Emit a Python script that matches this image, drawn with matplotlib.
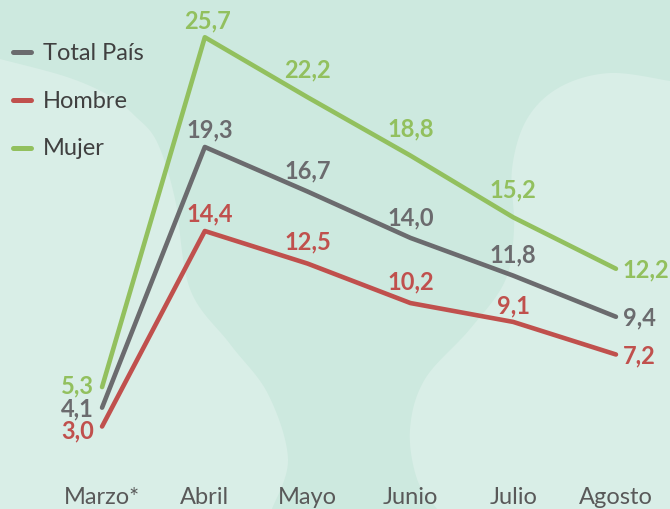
import numpy as np
import matplotlib.pyplot as plt
from matplotlib.patches import Polygon

plt.rcParams['font.family'] = ['Lato', 'DejaVu Sans']

meses = ['Marzo*', 'Abril', 'Mayo', 'Junio', 'Julio', 'Agosto']
total = [4.1, 19.3, 16.7, 14.0, 11.8, 9.4]
hombre = [3.0, 14.4, 12.5, 10.2, 9.1, 7.2]
mujer = [5.3, 25.7, 22.2, 18.8, 15.2, 12.2]

c_total = '#6b6b6e'
c_hombre = '#c0504d'
c_mujer = '#92c05e'

# label offsets in px (dx, dy) per point, dy negative = up
off_total = [(-8, 0), (5, -18), (0, -22), (0, -21), (0, -22), (7, 0)]
off_hombre = [(-8, 3), (5, -18), (0, -23), (0, -22), (0, -17), (7, 0)]
off_mujer = [(-8, -2), (3, -17), (0, -28), (0, -28), (0, -28), (7, 0)]


def smooth(pts, n=20):
    # catmull-rom through the given points
    p = np.array(pts, float)
    p = np.vstack([p[0], p, p[-1]])
    out = []
    for i in range(1, len(p) - 2):
        p0, p1, p2, p3 = p[i - 1], p[i], p[i + 1], p[i + 2]
        for t in np.linspace(0, 1, n, endpoint=False):
            t2, t3 = t * t, t * t * t
            out.append(0.5 * ((2 * p1) + (-p0 + p2) * t + (2 * p0 - 5 * p1 + 4 * p2 - p3) * t2
                              + (-p0 + 3 * p1 - 3 * p2 + p3) * t3))
    out.append(p[-2])
    return np.array(out)


fig = plt.figure(figsize=(6.7, 5.1), dpi=100)
fig.patch.set_facecolor('#cde9df')

bg = fig.add_axes([0, 0, 1, 1], zorder=-1)
bg.set_xlim(0, 670)
bg.set_ylim(510, 0)
bg.axis('off')
light = '#d9eee7'
left_blob = smooth([(0, 60), (67, 78), (110, 97), (135, 117), (157, 143), (175, 200),
                    (190, 290), (230, 345), (268, 395), (288, 460), (272, 510)])
left_blob = np.vstack([left_blob, [(0, 510)]])
bg.add_patch(Polygon(left_blob, closed=True, fc=light, ec='none'))
right_blob = smooth([(670, 82), (610, 74), (560, 88), (527, 120), (512, 170), (514, 230),
                     (505, 282), (470, 330), (425, 380), (410, 430), (417, 480), (437, 510)])
right_blob = np.vstack([right_blob, [(670, 510)]])
bg.add_patch(Polygon(right_blob, closed=True, fc=light, ec='none'))

ax = fig.add_axes([0, 0, 1, 1])
ax.patch.set_alpha(0)
ax.set_xlim(-0.993, 5.526)
ax.set_ylim(-1.81, 27.93)
ax.axis('off')

x = np.arange(len(meses))
for vals, col, offs, name in [(hombre, c_hombre, off_hombre, 'Hombre'),
                              (total, c_total, off_total, 'Total País'),
                              (mujer, c_mujer, off_mujer, 'Mujer')]:
    ax.plot(x, vals, color=col, lw=3.3, solid_capstyle='round', solid_joinstyle='round')
    for i, v in enumerate(vals):
        dx, dy = offs[i]
        ha = 'center'
        if i == 0:
            ha = 'right'
        elif i == len(vals) - 1:
            ha = 'left'
        ax.annotate(f'{v:.1f}'.replace('.', ','), (x[i], v),
                    xytext=(dx * 0.72, -dy * 0.72), textcoords='offset points',
                    ha=ha, va='center', fontsize=17, fontweight='bold', color=col)

for i, m in enumerate(meses):
    ax.text(x[i], -1.07, m, ha='center', va='center', fontsize=17, color='#595959')

# legend drawn by hand
leg = [('Total País', c_total), ('Hombre', c_hombre), ('Mujer', c_mujer)]
for k, (name, col) in enumerate(leg):
    y = 53 + 48 * k
    bg.plot([13, 31], [y, y], color=col, lw=3.6, solid_capstyle='round')
    bg.text(43, y, name, ha='left', va='center', fontsize=17, color='#404040')

fig.savefig('out.png', dpi=100)
